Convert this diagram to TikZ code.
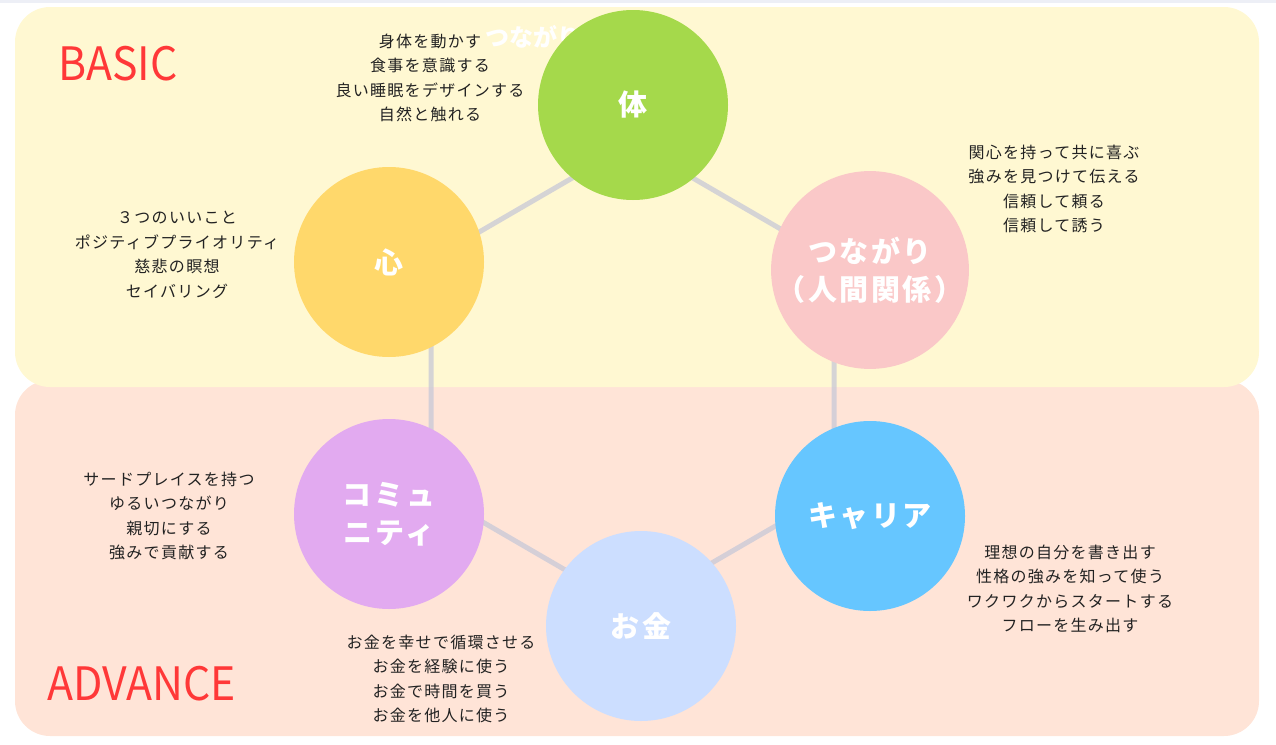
\documentclass[tikz,border=0pt]{standalone}
\usepackage{fontspec}
\setmainfont{Noto Sans CJK JP}
\definecolor{basicbg}{HTML}{FFF8D2}
\definecolor{advancebg}{HTML}{FFE4D7}
\definecolor{headred}{HTML}{FF3838}
\definecolor{topstrip}{HTML}{EDEFF6}
\definecolor{bodyc}{HTML}{A5D94B}
\definecolor{mindc}{HTML}{FFD86B}
\definecolor{linkc}{HTML}{FAC8C8}
\definecolor{commc}{HTML}{E2AAF0}
\definecolor{careerc}{HTML}{66C6FF}
\definecolor{moneyc}{HTML}{CCDEFF}
\definecolor{spoke}{HTML}{C8C8D7}
\definecolor{desctext}{HTML}{222222}
\tikzset{
  area/.style={rounded corners=35pt},
  headword/.style={anchor=base west, inner sep=0pt, text=headred,
                   font=\fontsize{46}{46}\selectfont\addfontfeature{FakeStretch=0.93}},
  topic/.style={circle, minimum size=190pt, inner sep=0pt, text=white, align=center,
                font=\fontsize{29}{38}\selectfont\bfseries\addfontfeature{LetterSpace=9}},
  desc/.style={align=center, inner sep=0pt, text=desctext,
               font=\fontsize{16}{24.5}\selectfont\addfontfeature{LetterSpace=8}},
  spokeline/.style={draw=spoke, opacity=0.75, line width=5pt, line join=round},
}
\begin{document}
\begin{tikzpicture}[x=1pt, y=-1pt]
    \useasboundingbox (0,0) rectangle (1276,744);
    \fill[topstrip] (0,0) rectangle (1276,2.5);
    \fill[advancebg, area] (15,380) rectangle (1259,736);
    \fill[basicbg, area] (15,7) rectangle (1259,387);
    \node[headword] (basic) at (58,80) {BASIC};
    \node[headword] (advance) at (47,700) {ADVANCE};
    \node[anchor=base west, inner sep=0pt, text=white,
          font=\fontsize{24}{24}\selectfont\bfseries] (ghost) at (485,46) {つながり};
    \coordinate (hexn) at (632.5,143);
    \coordinate (hexnw) at (431,260);
    \coordinate (hexsw) at (431,492);
    \coordinate (hexs) at (632.5,609);
    \coordinate (hexse) at (834,492);
    \coordinate (hexne) at (834,260);
    \draw[spokeline] (hexn) -- (hexnw) -- (hexsw) -- (hexs) -- (hexse) -- (hexne) -- cycle;
    \node[topic, fill=bodyc] (body) at (633,105) {体};
    \node[topic, fill=mindc] (mind) at (389,262) {心};
    \node[topic, fill=linkc] (link) at (870,270) {つながり\\（人間関係）};
    \node[topic, fill=commc] (comm) at (389,514) {コミュ\\ニティ};
    \node[topic, fill=careerc] (career) at (870,516) {キャリア};
    \node[topic, fill=moneyc] (money) at (641,626) {お金};
    \node[desc] (bodytips) at (430,78) {身体を動かす\\食事を意識する\\良い睡眠をデザインする\\自然と触れる};
    \node[desc] (mindtips) at (177,255) {３つのいいこと\\ポジティブプライオリティ\\慈悲の瞑想\\セイバリング};
    \node[desc] (linktips) at (1054,189) {関心を持って共に喜ぶ\\強みを見つけて伝える\\信頼して頼る\\信頼して誘う};
    \node[desc] (commtips) at (169,516) {サードプレイスを持つ\\ゆるいつながり\\親切にする\\強みで貢献する};
    \node[desc] (careertips) at (1070,589) {理想の自分を書き出す\\性格の強みを知って使う\\ワクワクからスタートする\\フローを生み出す};
    \node[desc] (moneytips) at (441,679) {お金を幸せで循環させる\\お金を経験に使う\\お金で時間を買う\\お金を他人に使う};
  \end{tikzpicture}
\end{document}
